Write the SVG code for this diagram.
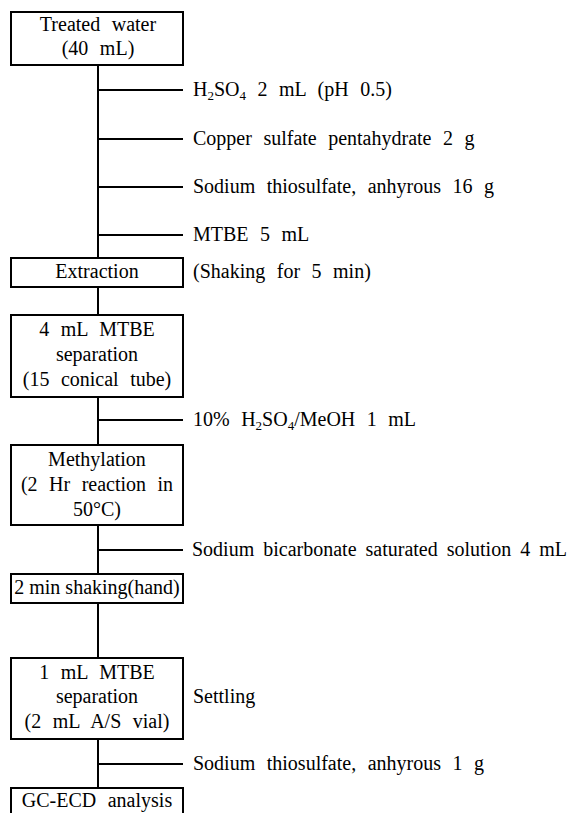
<svg xmlns="http://www.w3.org/2000/svg" width="573" height="813" viewBox="0 0 573 813">
<style>
text{font-family:'Liberation Serif','Times New Roman','DejaVu Serif',serif;font-size:20px;fill:#000;word-spacing:6.5px}
.c{text-anchor:middle}
.box{fill:#fff;stroke:#000;stroke-width:2}
.ln{stroke:#000;stroke-width:2;fill:none}
.sub{font-size:13px}
</style>
<rect width="573" height="813" fill="#fff"/>
<g id="connectors">
<line class="ln" x1="98" y1="65" x2="98" y2="258"/>
<line class="ln" x1="98" y1="90" x2="183" y2="90"/>
<line class="ln" x1="98" y1="139" x2="183" y2="139"/>
<line class="ln" x1="98" y1="187" x2="183" y2="187"/>
<line class="ln" x1="98" y1="235" x2="183" y2="235"/>
<line class="ln" x1="98" y1="287" x2="98" y2="315"/>
<line class="ln" x1="98" y1="397" x2="98" y2="445"/>
<line class="ln" x1="98" y1="420" x2="183" y2="420"/>
<line class="ln" x1="98" y1="525" x2="98" y2="574"/>
<line class="ln" x1="98" y1="550" x2="183" y2="550"/>
<line class="ln" x1="98" y1="603" x2="98" y2="658"/>
<line class="ln" x1="98" y1="739" x2="98" y2="788"/>
<line class="ln" x1="98" y1="764" x2="183" y2="764"/>
</g>
<g font-family="Liberation Serif, serif">
<g id="n1">
<rect class="box" x="11" y="12" width="172" height="53"/>
<text class="c" x="98" y="31">Treated water</text>
<text class="c" x="98" y="55">(40 mL)</text>
</g>
<g id="l1"><text x="193" y="96">H<tspan class="sub" dy="4">2</tspan><tspan dy="-4">SO</tspan><tspan class="sub" dy="4">4</tspan><tspan dy="-4"> 2 mL (pH 0.5)</tspan></text></g>
<g id="l2"><text x="193" y="145">Copper sulfate pentahydrate 2 g</text></g>
<g id="l3"><text x="193" y="193">Sodium thiosulfate, anhyrous 16 g</text></g>
<g id="l4"><text x="193" y="241">MTBE 5 mL</text></g>
<g id="n2">
<rect class="box" x="11" y="258" width="172" height="29"/>
<text class="c" x="97" y="278">Extraction</text>
</g>
<g id="l5"><text x="193" y="278">(Shaking for 5 min)</text></g>
<g id="n3">
<rect class="box" x="11" y="315" width="172" height="82"/>
<text class="c" x="97" y="336">4 mL MTBE</text>
<text class="c" x="97" y="361">separation</text>
<text class="c" x="97" y="386">(15 conical tube)</text>
</g>
<g id="l6"><text x="193" y="426">10% H<tspan class="sub" dy="4">2</tspan><tspan dy="-4">SO</tspan><tspan class="sub" dy="4">4</tspan><tspan dy="-4">/MeOH 1 mL</tspan></text></g>
<g id="n4">
<rect class="box" x="11" y="445" width="172" height="80"/>
<text class="c" x="97" y="466">Methylation</text>
<text class="c" x="97" y="491">(2 Hr reaction in</text>
<text class="c" x="97" y="516">50°C)</text>
</g>
<g id="l7"><text x="192" y="556" style="word-spacing:4px">Sodium bicarbonate saturated solution 4 mL</text></g>
<g id="n5">
<rect class="box" x="11" y="574" width="172" height="29"/>
<text class="c" x="97" y="594" style="word-spacing:0">2 min shaking(hand)</text>
</g>
<g id="n6">
<rect class="box" x="11" y="658" width="172" height="81"/>
<text class="c" x="97" y="679">1 mL MTBE</text>
<text class="c" x="97" y="703">separation</text>
<text class="c" x="97" y="728">(2 mL A/S vial)</text>
</g>
<g id="l8"><text x="193" y="703">Settling</text></g>
<g id="l9"><text x="193" y="770">Sodium thiosulfate, anhyrous 1 g</text></g>
<g id="n7">
<rect class="box" x="11" y="788" width="172" height="40"/>
<text class="c" x="97" y="807">GC-ECD analysis</text>
</g>
</g>
</svg>
